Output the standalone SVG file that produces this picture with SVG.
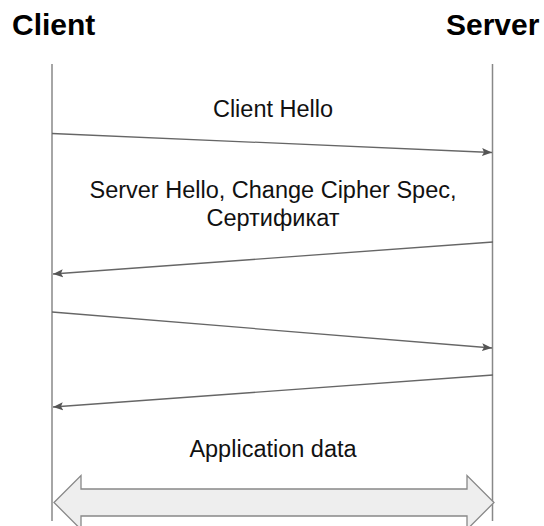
<svg xmlns="http://www.w3.org/2000/svg" width="544" height="526" viewBox="0 0 544 526">
<defs>
<style>
.title{font-family:"Liberation Sans",Arial,sans-serif;font-weight:bold;font-size:30px;fill:#000}
.lbl{font-family:"Liberation Sans",Arial,sans-serif;font-size:23.5px;fill:#111;text-anchor:middle}
.life{stroke:#888;stroke-width:1.5;fill:none}
.msg{stroke:#666;stroke-width:1.3;fill:none;marker-end:url(#ah)}
</style>
<marker id="ah" viewBox="0 0 10 10" refX="10" refY="5" markerWidth="10" markerHeight="10" markerUnits="userSpaceOnUse" orient="auto">
<path d="M0,1 L10,5 L0,9 L2,5 Z" fill="#555"/>
</marker>
</defs>
<rect width="544" height="526" fill="#fff"/>
<g id="client">
<text class="title" x="12" y="35">Client</text>
<line class="life" x1="52" y1="64" x2="52" y2="521"/>
</g>
<g id="server">
<text class="title" x="446" y="35">Server</text>
<line class="life" x1="492.5" y1="64" x2="492.5" y2="521"/>
</g>
<g id="labels">
<text class="lbl" x="273" y="117">Client Hello</text>
<text class="lbl" x="273" y="198">Server Hello, Change Cipher Spec,</text>
<text class="lbl" x="273" y="226">Сертификат</text>
<text class="lbl" x="273" y="457">Application data</text>
</g>
<g id="connectors">
<line class="msg" x1="52" y1="133.5" x2="492" y2="152.5"/>
<line class="msg" x1="493" y1="242" x2="53" y2="274"/>
<line class="msg" x1="52" y1="312" x2="492" y2="348"/>
<line class="msg" x1="493" y1="375" x2="53" y2="407"/>
</g>
<g id="appdata">
<path d="M54,502.5 L81,475.5 L81,489 L467,489 L467,475.5 L494,502.5 L467,529.5 L467,516 L81,516 L81,529.5 Z" fill="#eeeeee" stroke="#888" stroke-width="1.3"/>
</g>
</svg>
